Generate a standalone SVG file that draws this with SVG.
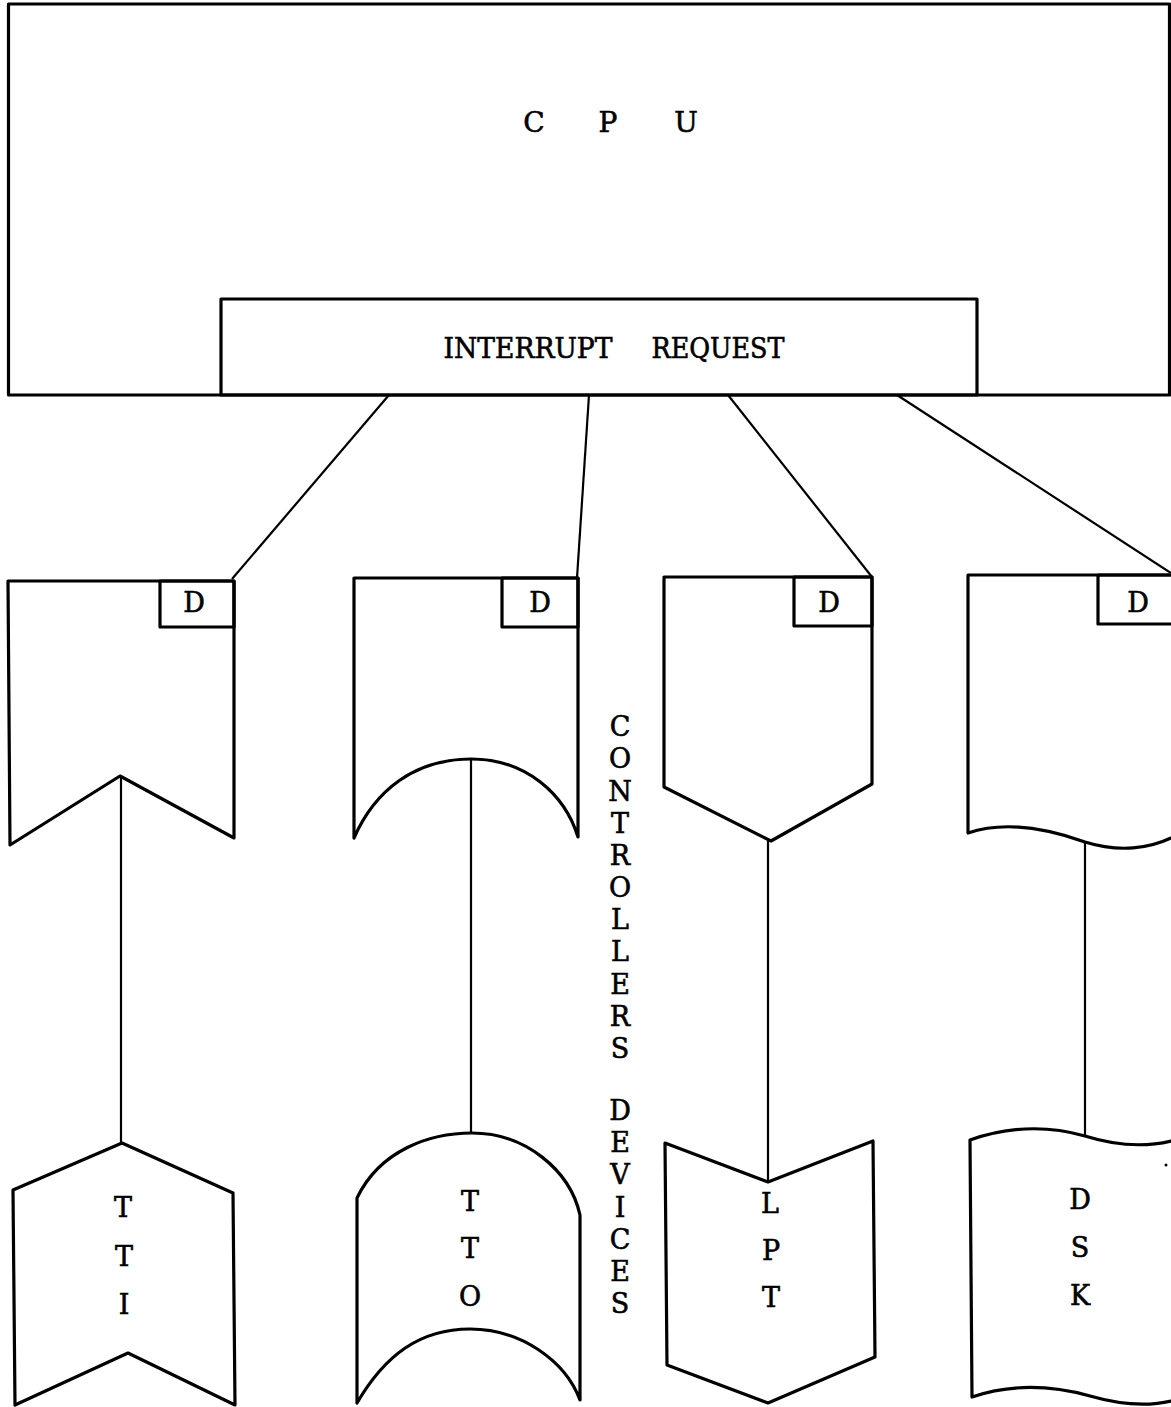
<svg xmlns="http://www.w3.org/2000/svg" width="1171" height="1407" viewBox="0 0 1171 1407">
<style>
.shape{fill:none;stroke:#000;stroke-width:3.2;stroke-linejoin:round}
.conn{fill:none;stroke:#000;stroke-width:2.2}
.t{font-family:"DejaVu Serif","Liberation Serif",serif;fill:#000;stroke:#000;stroke-width:0.6;text-anchor:middle}
.big{font-size:28px}
.lbl{font-size:27px;white-space:pre}
.v{font-size:27px}
</style>
<rect width="1171" height="1407" fill="#fff"/>
<g id="cpu">
<rect class="shape" x="8.5" y="4" width="1161" height="391"/>
<text class="t big" x="534" y="132">C</text>
<text class="t big" x="608" y="132">P</text>
<text class="t big" x="686" y="132">U</text>
</g>
<g id="interrupt-request">
<rect class="shape" x="221" y="299" width="756" height="96"/>
<text class="t lbl" x="528" y="358" textLength="169" lengthAdjust="spacingAndGlyphs">INTERRUPT</text>
<text class="t lbl" x="718" y="358" textLength="133" lengthAdjust="spacingAndGlyphs">REQUEST</text>
</g>
<g id="connectors">
<line class="conn" x1="389" y1="395" x2="232" y2="579"/>
<line class="conn" x1="589" y1="395" x2="577" y2="578"/>
<line class="conn" x1="728" y1="395" x2="872" y2="577"/>
<line class="conn" x1="897" y1="395" x2="1171" y2="573"/>
<line class="conn" x1="121" y1="776" x2="121" y2="1143"/>
<line class="conn" x1="471" y1="759" x2="471" y2="1133"/>
<line class="conn" x1="768" y1="841" x2="768" y2="1182"/>
<line class="conn" x1="1085" y1="843" x2="1085" y2="1136"/>
</g>
<g id="ctrl-tti">
<path class="shape" d="M8,581 L234,581 L234,838 L120,776 L10,845 Z"/>
<rect class="shape" x="160" y="581" width="74" height="46"/>
<text class="t v" x="194" y="612">D</text>
</g>
<g id="ctrl-tto">
<path class="shape" d="M354,838 L354,578 L578,578 L578,837 C565,795 527,759 471,759 C415,759 375,790 354,838 Z"/>
<rect class="shape" x="502" y="578" width="76" height="49"/>
<text class="t v" x="540" y="612">D</text>
</g>
<g id="ctrl-lpt">
<path class="shape" d="M664,577 L872,577 L872,784 L771,841 L664,787 Z"/>
<rect class="shape" x="794" y="577" width="78" height="49"/>
<text class="t v" x="829" y="612">D</text>
</g>
<g id="ctrl-dsk">
<path class="shape" d="M968,833 L968,575 L1200,575 L1200,835 L1171,838 C1150,848 1120,853 1085,842 C1040,826 1000,822 968,833 Z"/>
<rect class="shape" x="1098" y="575" width="110" height="49"/>
<text class="t v" x="1138" y="612">D</text>
</g>
<g id="label-controllers-devices">
<text class="t v" x="620" y="736">C</text>
<text class="t v" x="620" y="768">O</text>
<text class="t v" x="620" y="801">N</text>
<text class="t v" x="620" y="833">T</text>
<text class="t v" x="620" y="865">R</text>
<text class="t v" x="620" y="897">O</text>
<text class="t v" x="620" y="929">L</text>
<text class="t v" x="620" y="961">L</text>
<text class="t v" x="620" y="994">E</text>
<text class="t v" x="620" y="1026">R</text>
<text class="t v" x="620" y="1058">S</text>
<text class="t v" x="620" y="1120">D</text>
<text class="t v" x="620" y="1152">E</text>
<text class="t v" x="620" y="1184">V</text>
<text class="t v" x="620" y="1217">I</text>
<text class="t v" x="620" y="1249">C</text>
<text class="t v" x="620" y="1281">E</text>
<text class="t v" x="620" y="1313">S</text>
</g>
<g id="dev-tti">
<path class="shape" d="M13,1190 L122,1143 L233,1193 L235,1405 L128,1353 L15,1405 Z"/>
<text class="t v" x="123" y="1217">T</text>
<text class="t v" x="124" y="1266">T</text>
<text class="t v" x="124" y="1314">I</text>
</g>
<g id="dev-tto">
<path class="shape" d="M357,1198 C380,1150 430,1133 472,1133 C525,1133 570,1170 580,1215 L580,1400 C565,1360 520,1329 470,1329 C420,1329 385,1355 357,1403 Z"/>
<text class="t v" x="470" y="1211">T</text>
<text class="t v" x="470" y="1258">T</text>
<text class="t v" x="470" y="1306">O</text>
</g>
<g id="dev-lpt">
<path class="shape" d="M665,1143 L768,1182 L873,1141 L875,1357 L768,1403 L667,1365 Z"/>
<text class="t v" x="770" y="1213">L</text>
<text class="t v" x="771" y="1260">P</text>
<text class="t v" x="771" y="1307">T</text>
</g>
<g id="dev-dsk">
<path class="shape" d="M972,1397 L970,1140 C1010,1126 1050,1126 1085,1136 C1120,1147 1150,1146 1171,1141 L1200,1135 L1200,1400 L1171,1401 C1150,1406 1125,1406 1090,1396 C1050,1385 1010,1384 972,1397 Z"/>
<text class="t v" x="1080" y="1209">D</text>
<text class="t v" x="1080" y="1257">S</text>
<text class="t v" x="1080" y="1305">K</text>
<circle cx="1166" cy="1165" r="1.5" fill="#000"/>
</g>
</svg>
